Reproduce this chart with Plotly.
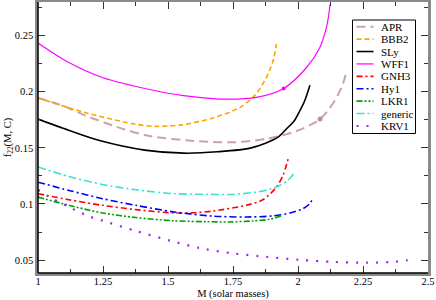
import plotly.graph_objects as go

# ---------------- data ----------------
apr_M = [1.0, 1.10, 1.18, 1.333, 1.43, 1.62, 1.75, 1.88, 1.994, 2.085, 2.14, 2.172, 2.185]
apr_f = [0.1945, 0.1872, 0.1790, 0.1665, 0.1605, 0.1558, 0.1550, 0.1580, 0.1650, 0.1757, 0.1915, 0.2065, 0.2170]

bbb2_M = [1.0, 1.18, 1.372, 1.45, 1.55, 1.673, 1.776, 1.833, 1.878, 1.904, 1.917]
bbb2_f = [0.1945, 0.1815, 0.1712, 0.1692, 0.1705, 0.1766, 0.1860, 0.1966, 0.2126, 0.2274, 0.2427]

sly_M = [1.0, 1.115, 1.237, 1.41, 1.56, 1.69, 1.82, 1.922, 1.955, 1.986, 2.007, 2.025, 2.046]
sly_f = [0.1757, 0.1660, 0.1565, 0.1480, 0.1453, 0.1465, 0.1500, 0.1593, 0.1668, 0.1742, 0.1830, 0.1915, 0.2058]

wff1_M = [1.0, 1.115, 1.25, 1.43, 1.56, 1.70, 1.84, 1.945, 2.032, 2.083, 2.109, 2.118, 2.123]
wff1_f = [0.2435, 0.2265, 0.2125, 0.2020, 0.1965, 0.1935, 0.1950, 0.2030, 0.2214, 0.2390, 0.2570, 0.2680, 0.2780]

gnh3_M = [1.0, 1.119, 1.248, 1.376, 1.523, 1.60, 1.673, 1.80, 1.865, 1.917, 1.942, 1.955, 1.962]
gnh3_f = [0.1092, 0.1038, 0.0988, 0.0950, 0.0920, 0.0922, 0.0937, 0.0988, 0.1038, 0.1150, 0.1254, 0.1343, 0.1402]

hy1_M = [1.0, 1.119, 1.248, 1.376, 1.523, 1.673, 1.80, 1.904, 1.968, 2.019, 2.045, 2.058]
hy1_f = [0.1194, 0.1121, 0.1047, 0.0988, 0.0929, 0.0892, 0.0884, 0.0894, 0.0919, 0.0958, 0.1003, 0.1056]

lkr1_M = [1.0, 1.119, 1.248, 1.376, 1.523, 1.65, 1.737, 1.827, 1.891, 1.936]
lkr1_f = [0.1061, 0.0988, 0.0920, 0.0879, 0.0850, 0.0842, 0.0840, 0.0849, 0.0864, 0.0893]

generic_M = [1.0, 1.119, 1.248, 1.376, 1.523, 1.65, 1.737, 1.80, 1.865, 1.93, 1.968, 1.985]
generic_f = [0.1330, 0.1245, 0.1174, 0.1127, 0.1092, 0.1086, 0.1085, 0.1095, 0.1115, 0.1165, 0.1225, 0.1278]

krv1_M = [1.0, 1.04, 1.119, 1.196, 1.248, 1.376, 1.51, 1.622, 1.75, 1.878, 2.007, 2.135, 2.263, 2.365, 2.417, 2.449]
krv1_f = [0.1127, 0.1068, 0.0973, 0.0890, 0.0852, 0.0760, 0.0672, 0.0607, 0.0560, 0.0529, 0.0502, 0.0484, 0.0477, 0.0484, 0.0498, 0.0527]

# highlighted points on WFF1 and APR
wff1_pt_M = [1.945]
wff1_pt_f = [0.2030]
apr_pt_M = [2.085]
apr_pt_f = [0.1757]

names = ["APR", "BBB2", "SLy", "WFF1", "GNH3", "Hy1", "LKR1", "generic", "KRV1"]
x_tickvals = [1, 1.25, 1.5, 1.75, 2, 2.25, 2.5]
x_ticktext = ["1", "1.25", "1.5", "1.75", "2", "2.25", "2.5"]
y_tickvals = [0.05, 0.1, 0.15, 0.2, 0.25]
y_ticktext = ["0.05", "0.1", "0.15", "0.2", "0.25"]

# ---------------- styles ----------------
series = [
    (apr_M, apr_f, "#c8a4a4", "9px,5px", 2.0),
    (bbb2_M, bbb2_f, "#ffa500", "5px,3px", 1.6),
    (sly_M, sly_f, "#000000", "solid", 1.6),
    (wff1_M, wff1_f, "#ff00ff", "solid", 1.2),
    (gnh3_M, gnh3_f, "#ff0000", "6px,3px,2px,3px", 1.6),
    (hy1_M, hy1_f, "#0000ff", "7px,3px,2px,3px", 1.6),
    (lkr1_M, lkr1_f, "#00a000", "6px,2px,2px,2px,2px,2px", 1.6),
    (generic_M, generic_f, "#40e0d0", "8px,3px,2px,3px", 1.6),
    (krv1_M, krv1_f, "#a020f0", "2px,8px", 2.2),
]

FONT = "Liberation Serif"
fig = go.Figure()
for (mx, fy, col, dash, w), nm in zip(series, names):
    fig.add_trace(go.Scatter(x=mx, y=fy, mode="lines", name=nm, showlegend=False,
                             line=dict(color=col, dash=dash, width=w, shape="spline", smoothing=0.8)))

fig.add_trace(go.Scatter(x=wff1_pt_M, y=wff1_pt_f, mode="markers", showlegend=False,
                         marker=dict(color="#ff00ff", size=4)))
fig.add_trace(go.Scatter(x=apr_pt_M, y=apr_pt_f, mode="markers", showlegend=False,
                         marker=dict(color="#b89090", size=5)))

# ---------------- frame and legend in paper coordinates ----------------
L, R, T, B = 38, 8, 2, 27
W, H = 436, 300
pw, ph = W - L - R, H - T - B


def px2x(px):
    return (px - L) / pw


def py2y(py):
    return (H - B - py) / ph


shapes = [
    # black left and bottom frame lines (top/right come from the grey axis lines)
    dict(type="line", xref="paper", yref="paper", x0=0, x1=0, y0=0, y1=1,
         line=dict(color="black", width=1.5), layer="above"),
    dict(type="line", xref="paper", yref="paper", x0=0, x1=1, y0=0, y1=0,
         line=dict(color="black", width=1.5), layer="above"),
    dict(type="rect", xref="paper", yref="paper",
         x0=px2x(352.5), x1=px2x(415.5), y0=py2y(133.5), y1=py2y(20),
         line=dict(color="black", width=1), fillcolor="white", layer="above"),
]
annotations = []
for i, ((mx, fy, col, dash, w), nm) in enumerate(zip(series, names)):
    cy = py2y(26.7 + 12.41 * i)
    shapes.append(dict(type="line", xref="paper", yref="paper",
                       x0=px2x(356.5), x1=px2x(373.5), y0=cy, y1=cy,
                       line=dict(color=col, dash=dash, width=w), layer="above"))
    annotations.append(dict(xref="paper", yref="paper", x=px2x(379), y=cy,
                            text=nm, showarrow=False, xanchor="left", yanchor="middle",
                            font=dict(family=FONT, size=11, color="black")))

fig.update_layout(
    width=W, height=H,
    margin=dict(l=L, r=R, t=T, b=B, autoexpand=False),
    plot_bgcolor="white", paper_bgcolor="white",
    font=dict(family=FONT, size=10.5, color="black"),
    shapes=shapes, annotations=annotations,
    xaxis=dict(range=[1, 2.5], tickvals=x_tickvals, ticktext=x_ticktext, automargin=False,
               ticks="inside", ticklen=7, tickwidth=1, tickcolor="#333333", mirror="allticks",
               ticklabelstandoff=-3,
               showline=True, linecolor="#8a8a8a", linewidth=2.5, showgrid=False, zeroline=False,
               minor=dict(dtick=0.125, tick0=1, ticks="inside", ticklen=4, tickcolor="#333333", showgrid=False),
               title=dict(text="M (solar masses)", font=dict(family=FONT, size=10.5), standoff=4),
               tickfont=dict(family=FONT, size=10.5)),
    yaxis=dict(range=[0.0385, 0.28], tickvals=y_tickvals, ticktext=y_ticktext, automargin=False,
               ticks="inside", ticklen=7, tickwidth=1, tickcolor="#333333", mirror="allticks",
               showline=True, linecolor="#8a8a8a", linewidth=2.5, showgrid=False, zeroline=False,
               minor=dict(dtick=0.025, tick0=0, ticks="inside", ticklen=4, tickcolor="#333333", showgrid=False),
               title=dict(text="f<sub>22</sub>(M, C)", font=dict(family=FONT, size=10.5), standoff=2),
               tickfont=dict(family=FONT, size=10.5)),
)

# remove the browser's default page margin so the 436x300 figure fills the window
fig.write_html("out.html", config={"displayModeBar": False},
               post_script="document.body.style.margin='0';")
